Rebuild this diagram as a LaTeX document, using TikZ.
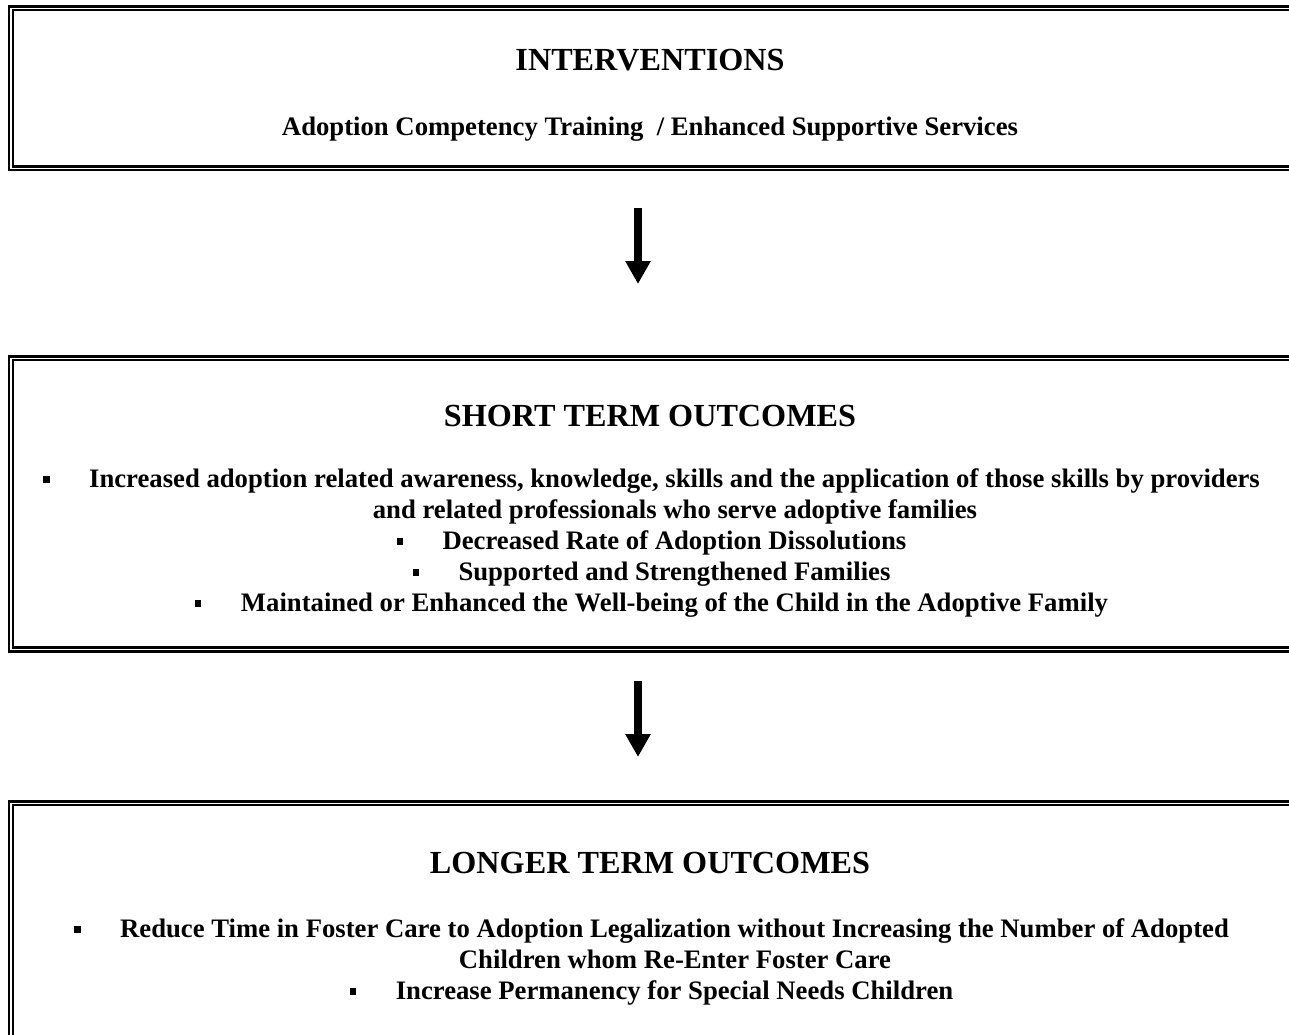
\documentclass[tikz,border=0pt]{standalone}
\usepackage{fontspec}
\setmainfont{Liberation Serif}
\usetikzlibrary{arrows.meta}
\newcommand{\bul}{\rule[4.5pt]{6.5pt}{6.5pt}\hspace{39.5pt}}
\newcommand{\hang}{\hspace*{47pt}}
\tikzset{
  panel/.style={draw, double, line width=2.4pt, double distance=1.3pt, inner sep=0pt},
  heading/.style={font=\fontsize{32.2}{36}\bfseries\selectfont, anchor=base},
  entry/.style={font=\fontsize{26.7}{31}\bfseries\selectfont, align=center, anchor=base},
  flow/.style={line width=8pt, -{Triangle[width=24pt,length=23pt]}}
}
\begin{document}
\begin{tikzpicture}[x=1pt,y=-1pt]
    \useasboundingbox (0,0) rectangle (1289,1034);
    \clip (0,0) rectangle (1289,1034);
    % interventions
    \node[panel, minimum width=1289pt, minimum height=160pt] (interv) at (655.5,88.2) {};
    \node[heading] (intervhead) at (650,70) {INTERVENTIONS};
    \node[entry] (intervtext) at (650,135) {Adoption Competency Training \ / Enhanced Supportive Services};
    % short term (base anchor = last line)
    \node[panel, minimum width=1289pt, minimum height=291.3pt] (short) at (655.5,503.85) {};
    \node[heading] (shorthead) at (650,426) {SHORT TERM OUTCOMES};
    \node[entry] (shorttext) at (651.5,611) {\bul Increased adoption related awareness, knowledge, skills and the application of those skills by providers\\
        \hang and related professionals who serve adoptive families\\
        \bul Decreased Rate of Adoption Dissolutions\\
        \bul Supported and Strengthened Families\\
        \bul Maintained or Enhanced the Well-being of the Child in the Adoptive Family};
    % longer term
    \node[panel, minimum width=1289pt, minimum height=256.8pt] (longer) at (655.5,931.6) {};
    \node[heading] (longerhead) at (650,873) {LONGER TERM OUTCOMES};
    \node[entry] (longertext) at (651.5,999) {\bul Reduce Time in Foster Care to Adoption Legalization without Increasing the Number of Adopted\\
        \hang Children whom Re-Enter Foster Care\\
        \bul Increase Permanency for Special Needs Children};
    % arrows
    \coordinate (flowatop) at (638,208);
    \coordinate (flowatip) at (638,284);
    \coordinate (flowbtop) at (638,681);
    \coordinate (flowbtip) at (638,757);
    \draw[flow] (flowatop) -- (flowatip);
    \draw[flow] (flowbtop) -- (flowbtip);
\end{tikzpicture}
\end{document}
